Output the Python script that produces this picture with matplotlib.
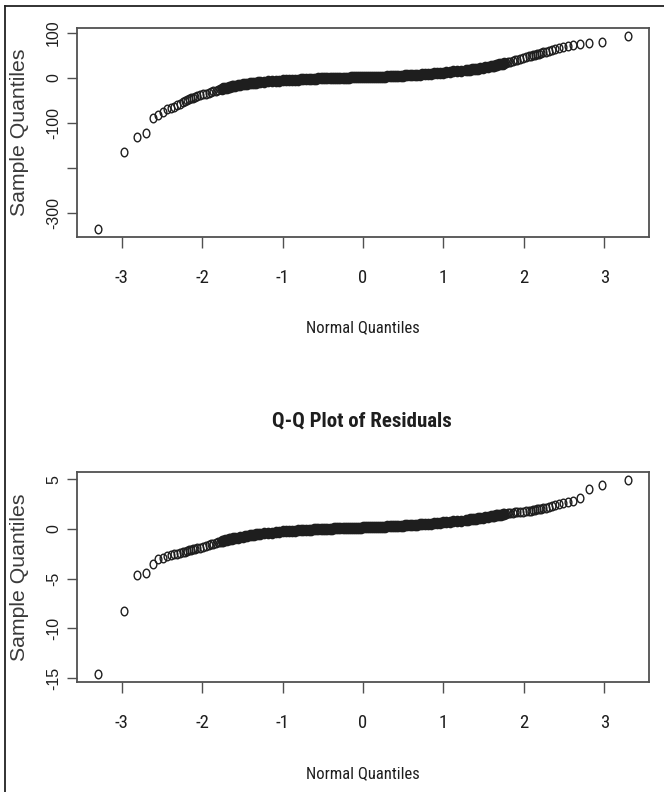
import matplotlib
matplotlib.use("Agg")
import matplotlib.pyplot as plt
from matplotlib.path import Path
from matplotlib.transforms import Affine2D
from matplotlib.lines import Line2D
from statistics import NormalDist

# ---------------- data (sorted sample values at selected ranks, n = 1000) ----------------
n_obs = 1000
ranks = (list(range(1, 21)) + list(range(22, 57, 2)) + list(range(60, 101, 4))
         + list(range(110, 891, 10)) + list(range(900, 941, 4))
         + list(range(945, 980, 2)) + list(range(981, 1001)))

# top panel
top_low_tail = [-337, -164, -131, -122, -89, -82, -76, -69, -67, -64,
                -61, -57, -54, -51, -49, -47, -45, -44, -42, -40.5]
top_low_shoulder = [-38, -36.5, -35, -33, -31.5, -29.5, -28, -26.5, -25.5,
                    -24.5, -23.5, -22.5, -21.5, -20.5, -19.5, -18.5, -18, -17.5]
top_low_knee = [-16.5, -15.5, -14.5, -13.5, -12.5, -12, -11.3, -10.7, -10.2, -9.7, -9.2]
top_body = [-8.3, -7.6, -7.0, -6.4, -5.9, -5.4, -5.0, -4.6, -4.2, -3.8,
            -3.5, -3.1, -2.8, -2.5, -2.2, -1.9, -1.6, -1.4, -1.2, -1.0,
            -0.8, -0.6, -0.4, -0.2, 0.0, 0.1, 0.3, 0.4, 0.5, 0.6,
            0.7, 0.8, 0.9, 1.0, 1.1, 1.2, 1.3, 1.4, 1.5, 1.6,
            1.7, 1.8, 1.9, 2.0, 2.2, 2.3, 2.5, 2.6, 2.8, 3.0,
            3.2, 3.4, 3.6, 3.8, 4.1, 4.3, 4.6, 4.9, 5.2, 5.5,
            5.8, 6.1, 6.4, 6.8, 7.2, 7.6, 8.0, 8.5, 9.0, 9.5,
            10.1, 10.7, 11.4, 12.1, 12.8, 13.6, 14.4, 15.3, 16.3]
top_high_knee = [17.3, 17.8, 18.4, 19.0, 19.6, 20.3, 21.0, 21.8, 22.6, 23.5, 24.5]
top_high_shoulder = [26, 26.8, 27.6, 28.4, 29.2, 30, 31, 32, 33, 34.2, 35.4,
                     36.6, 38, 39.5, 41, 42.5, 44, 46]
top_high_tail = [48, 49, 50, 51, 52.5, 54, 55.5, 57, 58.5, 60,
                 62, 64, 66, 68.5, 71, 73.5, 76, 78, 81, 94]

# bottom panel (residuals)
res_low_tail = [-14.6, -8.2, -4.6, -4.45, -3.5, -3.05, -2.9, -2.75, -2.65, -2.55,
                -2.47, -2.4, -2.33, -2.27, -2.21, -2.15, -2.1, -2.05, -2.0, -1.95]
res_low_shoulder = [-1.88, -1.80, -1.72, -1.64, -1.56, -1.48, -1.40, -1.34, -1.28,
                    -1.23, -1.18, -1.14, -1.10, -1.06, -1.02, -0.99, -0.96, -0.93]
res_low_knee = [-0.88, -0.83, -0.78, -0.73, -0.69, -0.65, -0.61, -0.58, -0.55, -0.52, -0.49]
res_body = [-0.44, -0.40, -0.36, -0.32, -0.28, -0.25, -0.22, -0.20, -0.18, -0.16,
            -0.14, -0.12, -0.10, -0.09, -0.07, -0.06, -0.05, -0.03, -0.02, -0.01,
            0.00, 0.01, 0.02, 0.03, 0.04, 0.05, 0.06, 0.06, 0.07, 0.08,
            0.08, 0.09, 0.10, 0.11, 0.11, 0.12, 0.13, 0.14, 0.14, 0.15,
            0.16, 0.17, 0.17, 0.18, 0.19, 0.20, 0.21, 0.22, 0.22, 0.23,
            0.24, 0.25, 0.26, 0.27, 0.28, 0.30, 0.31, 0.32, 0.34, 0.35,
            0.37, 0.38, 0.40, 0.42, 0.44, 0.46, 0.48, 0.50, 0.52, 0.54,
            0.57, 0.60, 0.63, 0.66, 0.69, 0.72, 0.76, 0.80, 0.84]
res_high_knee = [0.89, 0.92, 0.95, 0.98, 1.01, 1.04, 1.07, 1.10, 1.14, 1.18, 1.22]
res_high_shoulder = [1.27, 1.30, 1.33, 1.36, 1.39, 1.42, 1.45, 1.48, 1.51, 1.54,
                     1.57, 1.60, 1.63, 1.66, 1.69, 1.72, 1.75, 1.78]
res_high_tail = [1.82, 1.85, 1.88, 1.92, 1.96, 2.0, 2.05, 2.1, 2.15, 2.2,
                 2.26, 2.37, 2.47, 2.57, 2.67, 2.81, 3.08, 4.0, 4.43, 4.94]

top_values = (top_low_tail + top_low_shoulder + top_low_knee + top_body
              + top_high_knee + top_high_shoulder + top_high_tail)
res_values = (res_low_tail + res_low_shoulder + res_low_knee + res_body
              + res_high_knee + res_high_shoulder + res_high_tail)

x_ticks = [-3, -2, -1, 0, 1, 2, 3]
x_ticklabels = ["-3", "-2", "-1", "0", "1", "2", "3"]
top_yticks = [100, 0, -100, -200, -300]
top_yticklabels = ["100", "0", "-100", "", "-300"]
res_yticks = [5, 0, -5, -10, -15]
res_yticklabels = ["5", "0", "-5", "-10", "-15"]
title_bottom = "Q-Q Plot of Residuals"
xlab = "Normal Quantiles"
ylab = "Sample Quantiles"

# theoretical quantiles, as R's qqnorm (ppoints)
nd = NormalDist()
theo = [nd.inv_cdf((r - 0.5) / n_obs) for r in ranks]
# points lying in the over-plotted (solid) part of the band
dense_lo, dense_hi = 40, 962

# ---------------- figure ----------------
W, H = 664, 792
fig = plt.figure(figsize=(W / 100, H / 100), dpi=100)
fig.patch.set_facecolor("white")

narrow = ["Liberation Sans Narrow", "Roboto Condensed", "Archivo Narrow", "Liberation Sans"]
regular = ["Liberation Sans", "DejaVu Sans"]
txt_col = "#1e1e1e"
frame_col = "#505050"
pt_col = "#1e1e1e"

marker = Affine2D().scale(0.78, 1.0).transform_path(Path.unit_circle())

def px_axes(left, top, right, bottom):
    return [left / W, 1 - bottom / H, (right - left) / W, (bottom - top) / H]

def make_panel(rect, values, yticks, yticklabels):
    ax = fig.add_axes(rect)
    ax.plot(theo, values, linestyle="none", marker=marker, markersize=6.2,
            markerfacecolor="none", markeredgecolor=pt_col, markeredgewidth=1.0)
    dx = [t for t, r in zip(theo, ranks) if dense_lo <= r <= dense_hi]
    dy = [v for v, r in zip(values, ranks) if dense_lo <= r <= dense_hi]
    ax.plot(dx, dy, linestyle="none", marker=marker, markersize=7.4,
            markerfacecolor=pt_col, markeredgecolor=pt_col, markeredgewidth=1.0)
    ax.margins(x=0.04, y=0.04)
    ax.set_xticks(x_ticks)
    ax.set_xticklabels(x_ticklabels, fontfamily=narrow, fontsize=13.5, color=txt_col)
    ax.set_yticks(yticks)
    ax.set_yticklabels(yticklabels, fontfamily=regular, fontsize=11.5, color=txt_col,
                       rotation=90, va="center")
    ax.tick_params(axis="x", direction="out", length=8, width=1.0, color=frame_col, pad=15)
    ax.tick_params(axis="y", direction="out", length=7.5, width=1.0, color=frame_col, pad=4)
    for s in ax.spines.values():
        s.set_color(frame_col)
        s.set_linewidth(1.3)
    ax.set_xlabel(xlab, fontfamily=narrow, fontsize=12, color=txt_col)
    ax.xaxis.set_label_coords(0.5, -0.435)
    ax.xaxis.label.set_va("center")
    ax.set_ylabel(ylab, fontfamily=regular, fontsize=15.3, color="#3a3a3a")
    ax.yaxis.set_label_coords(-0.101, 0.5)
    ax.yaxis.label.set_va("center")
    return ax

ax1 = make_panel(px_axes(77, 28, 649, 237), top_values, top_yticks, top_yticklabels)
ax2 = make_panel(px_axes(77, 472, 649, 682), res_values, res_yticks, res_yticklabels)

fig.text(361.5 / W, 1 - 421.5 / H, title_bottom, fontfamily=narrow, fontweight="bold",
         fontsize=15, ha="center", va="center", color=txt_col)

# outer border (left and top edges)
fig.add_artist(Line2D([5 / W, 5 / W], [0, 1 - 6 / H], transform=fig.transFigure,
                      color="#222222", linewidth=1.3))
fig.add_artist(Line2D([5 / W, 1], [1 - 6 / H, 1 - 6 / H], transform=fig.transFigure,
                      color="#222222", linewidth=1.3))

fig.savefig("out.png", dpi=100, facecolor="white")
